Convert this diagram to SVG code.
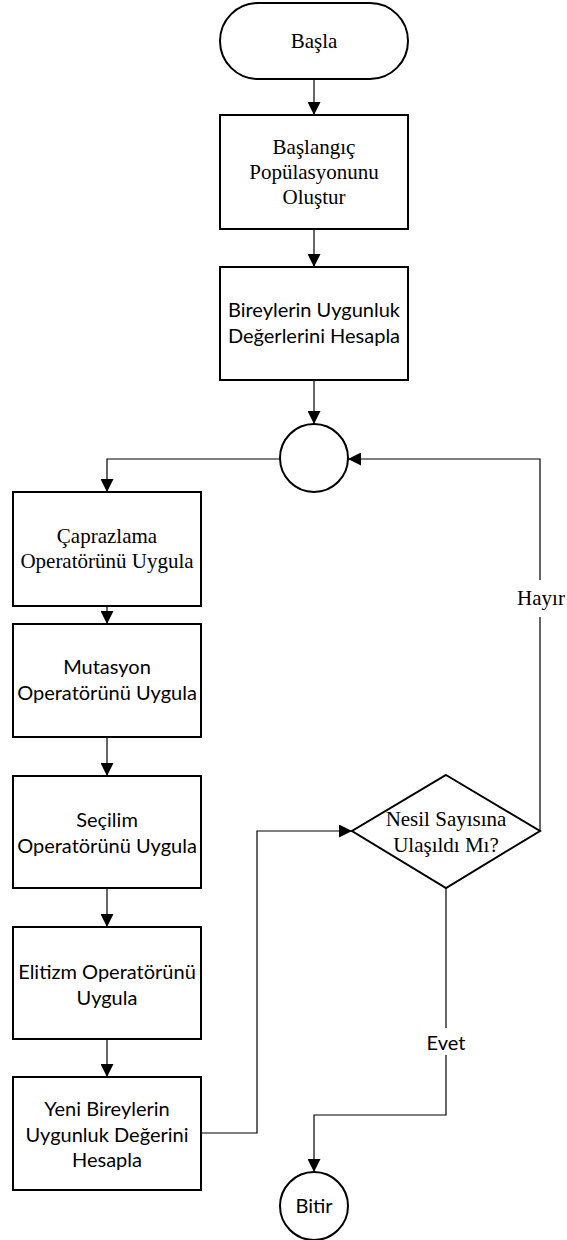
<svg xmlns="http://www.w3.org/2000/svg" width="567" height="1240" viewBox="0 0 567 1240">
<defs>
<marker id="ah" markerUnits="userSpaceOnUse" markerWidth="13" markerHeight="13" refX="13" refY="6.5" orient="auto">
<path d="M0,0 L13,6.5 L0,13 z" fill="#000"/>
</marker>
<style>
.shape{fill:#fff;stroke:#000;stroke-width:2}
.conn{fill:none;stroke:#000;stroke-width:1.2}
.serif{font-family:"Liberation Serif","Times New Roman",serif;font-size:21px;fill:#000;text-anchor:middle}
.sans{font-family:Lato,"Noto Sans",sans-serif;font-size:20px;fill:#000;text-anchor:middle}
</style>
</defs>
<rect width="567" height="1240" fill="#fff"/>
<g id="connectors">
<path class="conn" d="M314,79 V115" marker-end="url(#ah)"/>
<path class="conn" d="M314,229 V267" marker-end="url(#ah)"/>
<path class="conn" d="M314,380 V424" marker-end="url(#ah)"/>
<path class="conn" d="M280,459 H107 V492" marker-end="url(#ah)"/>
<path class="conn" d="M107,606 V624" marker-end="url(#ah)"/>
<path class="conn" d="M107,737 V776" marker-end="url(#ah)"/>
<path class="conn" d="M107,888 V927" marker-end="url(#ah)"/>
<path class="conn" d="M107,1039 V1077" marker-end="url(#ah)"/>
<path class="conn" d="M201,1133 H257 V831 H352" marker-end="url(#ah)"/>
<path class="conn" d="M540,831 V459 H348" marker-end="url(#ah)"/>
<path class="conn" d="M446,888 V1115 H314 V1172" marker-end="url(#ah)"/>
<rect x="516" y="580" width="50" height="37" fill="#fff"/>
<text class="serif" x="541" y="605">Hayır</text>
<rect x="424" y="1028" width="44" height="27" fill="#fff"/>
<text class="sans" x="446" y="1050">Evet</text>
</g>
<g id="start">
<rect class="shape" x="220" y="3" width="188" height="76" rx="38" ry="38"/>
<text class="serif" x="314" y="48">Başla</text>
</g>
<g id="init-pop">
<rect class="shape" x="220" y="115" width="188" height="114"/>
<text class="serif" x="314" y="154">Başlangıç</text>
<text class="serif" x="314" y="179">Popülasyonunu</text>
<text class="serif" x="314" y="204">Oluştur</text>
</g>
<g id="fitness">
<rect class="shape" x="220" y="267" width="188" height="113"/>
<text class="sans" x="314" y="317">Bireylerin Uygunluk</text>
<text class="sans" x="314" y="343">Değerlerini Hesapla</text>
</g>
<g id="junction">
<circle class="shape" cx="314" cy="458" r="34"/>
</g>
<g id="crossover">
<rect class="shape" x="13" y="492" width="188" height="114"/>
<text class="serif" x="107" y="543">Çaprazlama</text>
<text class="serif" x="107" y="568">Operatörünü Uygula</text>
</g>
<g id="mutation">
<rect class="shape" x="13" y="624" width="188" height="113"/>
<text class="sans" x="107" y="674">Mutasyon</text>
<text class="sans" x="107" y="700">Operatörünü Uygula</text>
</g>
<g id="selection">
<rect class="shape" x="13" y="776" width="188" height="112"/>
<text class="sans" x="107" y="827">Seçilim</text>
<text class="sans" x="107" y="853">Operatörünü Uygula</text>
</g>
<g id="elitism">
<rect class="shape" x="13" y="927" width="188" height="112"/>
<text class="sans" x="107" y="979">Elitizm Operatörünü</text>
<text class="sans" x="107" y="1005">Uygula</text>
</g>
<g id="new-fitness">
<rect class="shape" x="13" y="1077" width="188" height="113"/>
<text class="sans" x="107" y="1116">Yeni Bireylerin</text>
<text class="sans" x="107" y="1142">Uygunluk Değerini</text>
<text class="sans" x="107" y="1167">Hesapla</text>
</g>
<g id="decision">
<polygon class="shape" points="446,775 540,831 446,888 352,831"/>
<text class="serif" x="446" y="826">Nesil Sayısına</text>
<text class="serif" x="446" y="852">Ulaşıldı Mı?</text>
</g>
<g id="end">
<circle class="shape" cx="314" cy="1206" r="34"/>
<text class="sans" x="314" y="1213">Bitir</text>
</g>
</svg>
